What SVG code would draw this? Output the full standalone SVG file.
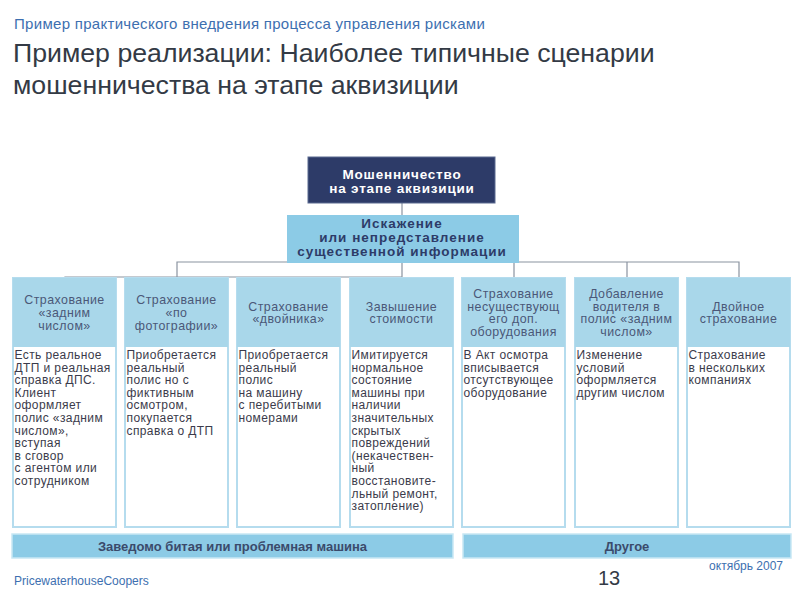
<svg xmlns="http://www.w3.org/2000/svg" width="800" height="600" viewBox="0 0 800 600">
<style>
text{font-family:"Liberation Sans",Arial,sans-serif}
.sub{font-size:15px;fill:#3d6fb0;letter-spacing:0.3px}
.title{font-size:26.7px;fill:#333a45}
.top{fill:#2d3b68;stroke:#5a6a90;stroke-width:1}
.topt{font-size:13.5px;font-weight:bold;fill:#ffffff;text-anchor:middle;letter-spacing:0.8px}
.mid{fill:#8ccbe6}
.midt{font-size:13.5px;font-weight:bold;fill:#2d3b68;text-anchor:middle;letter-spacing:1px}
.col{fill:#ffffff;stroke:#b5dcee;stroke-width:2}
.hdr{fill:#a9d7ea}
.ht{font-size:12.4px;fill:#4b5878;text-anchor:middle;letter-spacing:0.45px}
.bt{font-size:12px;fill:#3b3b4b;letter-spacing:0.4px}
.bar{fill:#8ccbe6;stroke:#c8e7f4;stroke-width:1.5}
.bart{font-size:13px;font-weight:bold;fill:#3b4a6b;text-anchor:middle}
.conn{fill:none;stroke:#8a93a0;stroke-width:1.2}
.foot{font-size:12px;fill:#3d6fb0}
</style>

<text class="sub" x="14" y="29">Пример практического внедрения процесса управления рисками</text>
<text class="title" x="13" y="62">Пример реализации: Наиболее типичные сценарии</text>
<text class="title" x="13" y="94">мошенничества на этапе аквизиции</text>

<g id="connectors">
<path class="conn" d="M402,203 V215"/>
<path class="conn" d="M402,262 H177 V277 H65 V278"/>
<path class="conn" d="M402,262 V277 H177"/>
<path class="conn" d="M402,262 H739 V278"/>
<path class="conn" d="M514,262 V278"/>
<path class="conn" d="M627,262 V278"/>
</g>

<g id="fraud">
<rect class="top" x="308" y="157" width="187" height="46"/>
<text class="topt" x="402" y="179">Мошенничество</text>
<text class="topt" x="402" y="193">на этапе аквизиции</text>
</g>

<g id="distortion">
<rect class="mid" x="287" y="215" width="232" height="48"/>
<text class="midt" x="402" y="228">Искажение</text>
<text class="midt" x="402" y="242">или непредставление</text>
<text class="midt" x="402" y="256">существенной информации</text>
</g>

<g id="col1">
<rect class="col" x="13" y="278" width="103" height="249"/>
<rect class="hdr" x="13" y="278" width="103" height="69"/>
<text class="ht" x="64.5" y="304.4">Страхование</text>
<text class="ht" x="64.5" y="317">«задним</text>
<text class="ht" x="64.5" y="329.6">числом»</text>
<text class="bt" x="14.5" y="359"><tspan x="14.5">Есть реальное</tspan><tspan x="14.5" dy="12.6">ДТП и реальная</tspan><tspan x="14.5" dy="12.6">справка ДПС.</tspan><tspan x="14.5" dy="12.6">Клиент</tspan><tspan x="14.5" dy="12.6">оформляет</tspan><tspan x="14.5" dy="12.6">полис «задним</tspan><tspan x="14.5" dy="12.6">числом»,</tspan><tspan x="14.5" dy="12.6">вступая</tspan><tspan x="14.5" dy="12.6">в сговор</tspan><tspan x="14.5" dy="12.6">с агентом или</tspan><tspan x="14.5" dy="12.6">сотрудником</tspan></text>
</g>

<g id="col2">
<rect class="col" x="125" y="278" width="103" height="249"/>
<rect class="hdr" x="125" y="278" width="103" height="69"/>
<text class="ht" x="176.5" y="304.4">Страхование</text>
<text class="ht" x="176.5" y="317">«по</text>
<text class="ht" x="176.5" y="329.6">фотографии»</text>
<text class="bt" x="126.5" y="359"><tspan x="126.5">Приобретается</tspan><tspan x="126.5" dy="12.6">реальный</tspan><tspan x="126.5" dy="12.6">полис но с</tspan><tspan x="126.5" dy="12.6">фиктивным</tspan><tspan x="126.5" dy="12.6">осмотром,</tspan><tspan x="126.5" dy="12.6">покупается</tspan><tspan x="126.5" dy="12.6">справка о ДТП</tspan></text>
</g>

<g id="col3">
<rect class="col" x="237" y="278" width="103" height="249"/>
<rect class="hdr" x="237" y="278" width="103" height="69"/>
<text class="ht" x="288.5" y="310.7">Страхование</text>
<text class="ht" x="288.5" y="323.3">«двойника»</text>
<text class="bt" x="238.5" y="359"><tspan x="238.5">Приобретается</tspan><tspan x="238.5" dy="12.6">реальный</tspan><tspan x="238.5" dy="12.6">полис</tspan><tspan x="238.5" dy="12.6">на машину</tspan><tspan x="238.5" dy="12.6">с перебитыми</tspan><tspan x="238.5" dy="12.6">номерами</tspan></text>
</g>

<g id="col4">
<rect class="col" x="350" y="278" width="103" height="249"/>
<rect class="hdr" x="350" y="278" width="103" height="69"/>
<text class="ht" x="401.5" y="310.7">Завышение</text>
<text class="ht" x="401.5" y="323.3">стоимости</text>
<text class="bt" x="351.5" y="359"><tspan x="351.5">Имитируется</tspan><tspan x="351.5" dy="12.6">нормальное</tspan><tspan x="351.5" dy="12.6">состояние</tspan><tspan x="351.5" dy="12.6">машины при</tspan><tspan x="351.5" dy="12.6">наличии</tspan><tspan x="351.5" dy="12.6">значительных</tspan><tspan x="351.5" dy="12.6">скрытых</tspan><tspan x="351.5" dy="12.6">повреждений</tspan><tspan x="351.5" dy="12.6">(некачествен-</tspan><tspan x="351.5" dy="12.6">ный</tspan><tspan x="351.5" dy="12.6">восстановите-</tspan><tspan x="351.5" dy="12.6">льный ремонт,</tspan><tspan x="351.5" dy="12.6">затопление)</tspan></text>
</g>

<g id="col5">
<rect class="col" x="462" y="278" width="103" height="249"/>
<rect class="hdr" x="462" y="278" width="103" height="69"/>
<text class="ht" x="513.5" y="298">Страхование</text>
<text class="ht" x="513.5" y="310.7">несуществующ</text>
<text class="ht" x="513.5" y="323.3">его доп.</text>
<text class="ht" x="513.5" y="336">оборудования</text>
<text class="bt" x="463.5" y="359"><tspan x="463.5">В Акт осмотра</tspan><tspan x="463.5" dy="12.6">вписывается</tspan><tspan x="463.5" dy="12.6">отсутствующее</tspan><tspan x="463.5" dy="12.6">оборудование</tspan></text>
</g>

<g id="col6">
<rect class="col" x="575" y="278" width="103" height="249"/>
<rect class="hdr" x="575" y="278" width="103" height="69"/>
<text class="ht" x="626.5" y="298">Добавление</text>
<text class="ht" x="626.5" y="310.7">водителя в</text>
<text class="ht" x="626.5" y="323.3">полис «задним</text>
<text class="ht" x="626.5" y="336">числом»</text>
<text class="bt" x="576.5" y="359"><tspan x="576.5">Изменение</tspan><tspan x="576.5" dy="12.6">условий</tspan><tspan x="576.5" dy="12.6">оформляется</tspan><tspan x="576.5" dy="12.6">другим числом</tspan></text>
</g>

<g id="col7">
<rect class="col" x="687" y="278" width="103" height="249"/>
<rect class="hdr" x="687" y="278" width="103" height="69"/>
<text class="ht" x="738.5" y="310.7">Двойное</text>
<text class="ht" x="738.5" y="323.3">страхование</text>
<text class="bt" x="688.5" y="359"><tspan x="688.5">Страхование</tspan><tspan x="688.5" dy="12.6">в нескольких</tspan><tspan x="688.5" dy="12.6">компаниях</tspan></text>
</g>

<g id="bar1">
<rect class="bar" x="12" y="534" width="441" height="24"/>
<text class="bart" x="232.5" y="550.5">Заведомо битая или проблемная машина</text>
</g>

<g id="bar2">
<rect class="bar" x="463" y="534" width="328" height="24"/>
<text class="bart" x="627" y="550.5">Другое</text>
</g>

<text class="foot" x="14" y="585">PricewaterhouseCoopers</text>
<text x="609" y="585" style="font-size:20px;fill:#333a45;text-anchor:middle">13</text>
<text class="foot" x="783" y="570" style="text-anchor:end">октябрь 2007</text>
</svg>
